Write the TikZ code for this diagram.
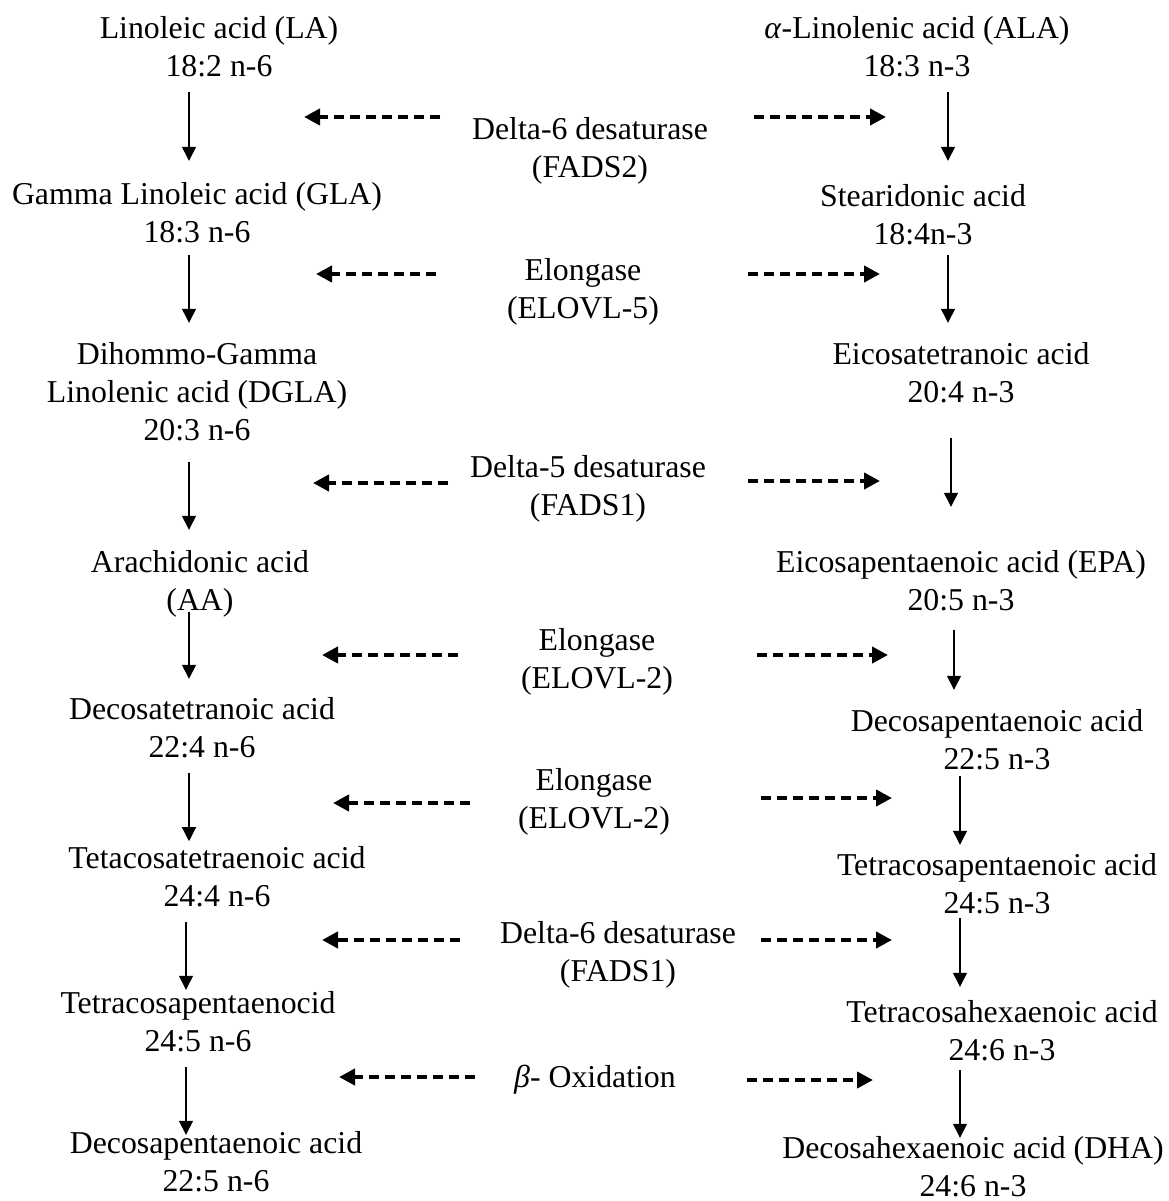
\documentclass[tikz,border=0pt]{standalone}
\usepackage{fontspec}
\setmainfont{Liberation Serif}
\usetikzlibrary{arrows.meta}
\begin{document}
\begin{tikzpicture}[x=1pt,y=-1pt,
  acid/.style={inner sep=0pt, align=center, font=\fontsize{31.8}{38}\selectfont},
  enzyme/.style={acid},
  flow/.style={line width=1.3pt, -{Triangle[length=14pt,width=14pt]}},
  enz/.style={line width=4pt, dash pattern=on 10pt off 6pt,
              -{Triangle[length=16pt,width=16pt]}}]
\useasboundingbox (0,0) rectangle (1168,1201);

% columns along which the conversion arrows run
\coordinate (xL1) at (189,0);
\coordinate (xL2) at (186,0);
\coordinate (xR1) at (948,0);
\coordinate (xR2) at (951,0);
\coordinate (xR3) at (954,0);
\coordinate (xR4) at (960,0);

% omega-6 series
\node[acid] (la)   at (219,50.4)   {Linoleic acid (LA)\strut\\18:2 n-6\strut};
\node[acid] (gla)  at (197,215.4)  {Gamma Linoleic acid (GLA)\strut\\18:3 n-6\strut};
\node[acid] (dgla) at (197,394.4)  {Dihommo-Gamma\strut\\Linolenic acid (DGLA)\strut\\20:3 n-6\strut};
\node[acid] (aa)   at (200,583.4)  {Arachidonic acid\strut\\(AA)\strut};
\node[acid] (dta)  at (202,730.4)  {Decosatetranoic acid\strut\\22:4 n-6\strut};
\node[acid] (tta)  at (217,879.4)  {Tetacosatetraenoic acid\strut\\24:4 n-6\strut};
\node[acid] (tpa)  at (198,1024.4) {Tetracosapentaenocid\strut\\24:5 n-6\strut};
\node[acid] (dpa)  at (216,1164.4) {Decosapentaenoic acid\strut\\22:5 n-6\strut};

% omega-3 series
\node[acid] (ala)  at (917,50.4)   {\textit{α}-Linolenic acid (ALA)\strut\\18:3 n-3\strut};
\node[acid] (sda)  at (923,217.4)  {Stearidonic acid\strut\\18:4n-3\strut};
\node[acid] (eta)  at (961,375.4)  {Eicosatetranoic acid\strut\\20:4 n-3\strut};
\node[acid] (epa)  at (961,583.4)  {Eicosapentaenoic acid (EPA)\strut\\20:5 n-3\strut};
\node[acid] (dpa3) at (997,742.4)  {Decosapentaenoic acid\strut\\22:5 n-3\strut};
\node[acid] (tpa3) at (997,886.4)  {Tetracosapentaenoic acid\strut\\24:5 n-3\strut};
\node[acid] (tha)  at (1002,1033.4){Tetracosahexaenoic acid\strut\\24:6 n-3\strut};
\node[acid] (dha)  at (973,1169.4) {Decosahexaenoic acid (DHA)\strut\\24:6 n-3\strut};

% enzymes acting on both series
\node[enzyme] (e1) at (590,151.4)  {Delta-6 desaturase\strut\\(FADS2)\strut};
\node[enzyme] (e2) at (583,291.4)  {Elongase\strut\\(ELOVL-5)\strut};
\node[enzyme] (e3) at (588,488.4)  {Delta-5 desaturase\strut\\(FADS1)\strut};
\node[enzyme] (e4) at (597,661.4)  {Elongase\strut\\(ELOVL-2)\strut};
\node[enzyme] (e5) at (594,801.4)  {Elongase\strut\\(ELOVL-2)\strut};
\node[enzyme] (e6) at (618,954.4)  {Delta-6 desaturase\strut\\(FADS1)\strut};
\node[enzyme] (e7) at (595,1079.4) {\textit{β}- Oxidation\strut};

% omega-6 conversions
\draw[flow, shorten <=3.6pt,   shorten >=16.4pt] (la.south -| xL1)   -- (gla.north -| xL1);
\draw[flow, shorten <=1.6pt,   shorten >=14.4pt] (gla.south -| xL1)  -- (dgla.north -| xL1);
\draw[flow, shorten <=10.6pt,  shorten >=15.4pt] (dgla.south -| xL1) -- (aa.north -| xL1);
\draw[flow, shorten <=-10pt,   shorten >=13.4pt] (aa.south -| xL1)   -- (dta.north -| xL1);
\draw[flow, shorten <=4.6pt,   shorten >=0pt]    (dta.south -| xL1)  -- (tta.north -| xL1);
\draw[flow, shorten <=4.6pt,   shorten >=-3.6pt] (tta.south -| xL2)  -- (tpa.north -| xL2);
\draw[flow, shorten <=4.6pt,   shorten >=-8.6pt] (tpa.south -| xL2)  -- (dpa.north -| xL2);

% omega-3 conversions
\draw[flow, shorten <=3.6pt,  shorten >=18.4pt] (ala.south -| xR1)  -- (sda.north -| xR1);
\draw[flow, shorten <=-0.4pt, shorten >=14.4pt] (sda.south -| xR1)  -- (eta.north -| xR1);
\draw[flow, shorten <=24.6pt, shorten >=38.4pt] (eta.south -| xR2)  -- (epa.north -| xR2);
\draw[flow, shorten <=8.6pt,  shorten >=14.4pt] (epa.south -| xR3)  -- (dpa3.north -| xR3);
\draw[flow, shorten <=-4.4pt, shorten >=3.4pt]  (dpa3.south -| xR4) -- (tpa3.north -| xR4);
\draw[flow, shorten <=-6.4pt, shorten >=8.4pt]  (tpa3.south -| xR4) -- (tha.north -| xR4);
\draw[flow, shorten <=-1.4pt, shorten >=-6.6pt] (tha.south -| xR4)  -- (dha.north -| xR4);

% dashed pointers from each enzyme towards both series
\foreach \n/\ly/\la/\lb/\ry/\ra/\rb in {
    1/117/440/304/117/754/886,
    2/274/436/316/274/748/880,
    3/483/448/313/481/748/880,
    4/655/458/322/655/757/888,
    5/803/470/333/798/761/892,
    6/940/460/322/940/761/892,
    7/1077/475/339/1080/747/873} {
  \coordinate (l\n a) at (\la,\ly);
  \coordinate (l\n b) at (\lb,\ly);
  \coordinate (r\n a) at (\ra,\ry);
  \coordinate (r\n b) at (\rb,\ry);
  \draw[enz] (l\n a) -- (l\n b);
  \draw[enz] (r\n a) -- (r\n b);
}
\end{tikzpicture}
\end{document}
